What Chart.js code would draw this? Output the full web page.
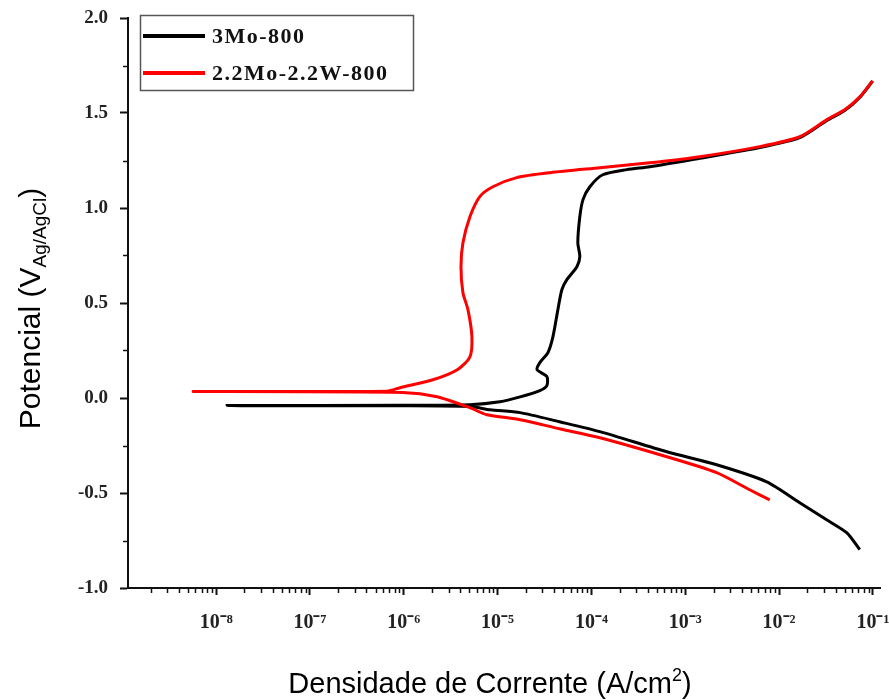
<!DOCTYPE html>
<html><head><meta charset="utf-8">
<script src="https://cdn.jsdelivr.net/npm/chart.js@4.4.0/dist/chart.umd.min.js"></script>
<style>html,body{margin:0;padding:0;background:#fff}#wrap{width:889px;height:700px;position:relative}</style>
</head><body><div id="wrap"><canvas id="c" width="889" height="700"></canvas></div>
<script>
// ---- data ----
const seriesLabels = ['3Mo-800', '2.2Mo-2.2W-800'];
const seriesColors = ['#000000', '#ff0000'];

const current3Mo = [7.24e-2, 5.25e-2, 3.21e-2, 1.66e-2, 7.38e-3, 2.16e-3, 6.35e-4, 1.23e-4, 4.57e-5, 1.74e-5,
  8.32e-6, 5.07e-6, 9.12e-7, 1.31e-8, 9.12e-7, 5.07e-6, 1.06e-5, 1.74e-5, 2.82e-5, 3.35e-5,
  3.35e-5, 2.63e-5, 2.82e-5, 3.44e-5, 3.89e-5, 4.39e-5, 4.84e-5, 5.47e-5, 7.00e-5, 7.52e-5,
  7.16e-5, 7.52e-5, 8.13e-5, 9.62e-5, 1.32e-4, 2.38e-4, 4.19e-4, 1.43e-3, 6.22e-3, 1.66e-2,
  3.21e-2, 5.0e-2, 7.24e-2, 9.93e-2];
const potential3Mo = [-0.798, -0.709, -0.641, -0.551, -0.441, -0.351, -0.283, -0.177, -0.125, -0.077,
  -0.062, -0.045, -0.041, -0.040, -0.038, -0.035, -0.020, 0.006, 0.039, 0.065,
  0.113, 0.149, 0.186, 0.239, 0.323, 0.465, 0.570, 0.623, 0.691, 0.744,
  0.817, 0.954, 1.044, 1.112, 1.175, 1.202, 1.217, 1.262, 1.318, 1.37,
  1.46, 1.513, 1.582, 1.668];

const currentMoW = [7.94e-3, 4.86e-3, 2.16e-3, 6.35e-4, 1.23e-4, 4.57e-5, 1.74e-5, 7.69e-6, 5.07e-6, 2.26e-6,
  9.77e-7, 5.69e-9, 6.62e-7, 9.12e-7, 2.04e-6, 3.72e-6, 5.07e-6, 5.32e-6, 4.83e-6, 4.27e-6,
  4.07e-6, 4.27e-6, 5.07e-6, 6.46e-6, 8.91e-6, 1.60e-5, 3.63e-5, 1.23e-4, 4.19e-4, 1.43e-3,
  6.22e-3, 1.66e-2, 3.21e-2, 5.0e-2, 7.24e-2, 9.93e-2];
const potentialMoW = [-0.536, -0.483, -0.393, -0.309, -0.209, -0.162, -0.114, -0.088, -0.051, 0.007,
  0.029, 0.034, 0.036, 0.054, 0.096, 0.149, 0.217, 0.323, 0.465, 0.554,
  0.691, 0.817, 0.954, 1.06, 1.112, 1.16, 1.186, 1.212, 1.238, 1.27,
  1.323, 1.375, 1.464, 1.517, 1.585, 1.67];

const xDecadeExponents = [-9, -8, -7, -6, -5, -4, -3, -2, -1];
const xMin = 1.15e-9, xMax = 1.19e-1;
const yMajorTicks = [-1.0, -0.5, 0.0, 0.5, 1.0, 1.5, 2.0];
const yMin = -1.0, yMax = 2.0, yStep = 0.25;

const xTitle = 'Densidade de Corrente (A/cm';
const xTitleSup = '2';
const yTitleMain = 'Potencial (V';
const yTitleSub = 'Ag/AgCl';

// ---- helpers ----
const SUP = {'-':'\u207B','0':'\u2070','1':'\u00B9','2':'\u00B2','3':'\u00B3','4':'\u2074','5':'\u2075','6':'\u2076','7':'\u2077','8':'\u2078','9':'\u2079'};
const toSup = s => String(s).split('').map(c => SUP[c] || c).join('');
const isDecade = v => { const e = Math.log10(v); return Math.abs(e - Math.round(e)) < 1e-6; };
const isYMajor = v => yMajorTicks.some(t => Math.abs(t - v) < 1e-9);

const xTickValues = [];
xDecadeExponents.forEach(e => { for (let m = 1; m <= 9; m++) { const v = m * Math.pow(10, e); if (v >= xMin && v <= xMax) xTickValues.push(v); } });

const toPoints = (xs, ys) => xs.map((x, i) => ({x: x, y: ys[i]}));

const SERIF = '"Liberation Serif", "Times New Roman", serif';
const SANS = '"Liberation Sans", Arial, sans-serif';

const decorPlugin = {
  id: 'decor',
  afterDraw(chart) {
    const c = chart.ctx;
    const xs = chart.scales.x, ys = chart.scales.y;
    const area = chart.chartArea;
    c.save();
    // minor ticks
    c.strokeStyle = '#111'; c.lineWidth = 1.5;
    xs.ticks.forEach(t => {
      if (isDecade(t.value)) return;
      const px = Math.round(xs.getPixelForValue(t.value)) + 0.5;
      c.beginPath(); c.moveTo(px, area.bottom); c.lineTo(px, area.bottom + 5); c.stroke();
    });
    ys.ticks.forEach(t => {
      if (isYMajor(t.value)) return;
      const py = Math.round(ys.getPixelForValue(t.value)) + 0.5;
      c.beginPath(); c.moveTo(area.left, py); c.lineTo(area.left - 5, py); c.stroke();
    });
    // x title with superscript
    c.fillStyle = '#000'; c.textBaseline = 'alphabetic'; c.textAlign = 'left';
    c.font = '29px ' + SANS;
    const w1 = c.measureText(xTitle).width;
    c.font = '18px ' + SANS;
    const w2 = c.measureText(xTitleSup).width;
    c.font = '29px ' + SANS;
    const w3 = c.measureText(')').width;
    let sx = 490 - (w1 + w2 + w3) / 2;
    const by = 693;
    c.fillText(xTitle, sx, by); sx += w1;
    c.font = '18px ' + SANS; c.fillText(xTitleSup, sx, by - 12); sx += w2;
    c.font = '29px ' + SANS; c.fillText(')', sx, by);
    // y title with subscript
    c.save();
    c.translate(40, 308.5); c.rotate(-Math.PI / 2);
    c.font = '30px ' + SANS; const m1 = c.measureText(yTitleMain).width; const m3 = c.measureText(')').width;
    c.font = '19px ' + SANS; const m2 = c.measureText(yTitleSub).width;
    let tx = -(m1 + m2 + m3) / 2;
    c.font = '30px ' + SANS; c.fillText(yTitleMain, tx, 0); tx += m1;
    c.font = '19px ' + SANS; c.fillText(yTitleSub, tx, 6); tx += m2;
    c.font = '30px ' + SANS; c.fillText(')', tx, 0);
    c.restore();
    // legend box
    c.strokeStyle = '#555'; c.lineWidth = 1.5;
    c.strokeRect(140.5, 15.5, 273, 75);
    const rows = [36, 73];
    chart.data.datasets.forEach((ds, i) => {
      const y = rows[i];
      c.strokeStyle = ds.borderColor; c.lineWidth = 4;
      c.beginPath(); c.moveTo(143, y); c.lineTo(205, y); c.stroke();
      c.fillStyle = '#111'; c.font = 'bold 22px ' + SERIF; c.textBaseline = 'middle';
      if ('letterSpacing' in c) c.letterSpacing = '1.5px';
      c.fillText(ds.label, 212, y + 1);
      if ('letterSpacing' in c) c.letterSpacing = '0px';
    });
    c.restore();
  }
};

new Chart(document.getElementById('c').getContext('2d'), {
  type: 'scatter',
  data: {
    datasets: [
      {label: seriesLabels[0], data: toPoints(current3Mo, potential3Mo), borderColor: seriesColors[0], backgroundColor: seriesColors[0],
       showLine: true, pointRadius: 0, borderWidth: 3, tension: 0.25, order: 1},
      {label: seriesLabels[1], data: toPoints(currentMoW, potentialMoW), borderColor: seriesColors[1], backgroundColor: seriesColors[1],
       showLine: true, pointRadius: 0, borderWidth: 3, tension: 0.25, order: 0}
    ]
  },
  options: {
    responsive: false, animation: false,
    layout: {padding: {top: 18, right: 9, left: 0, bottom: 0}},
    plugins: {legend: {display: false}, tooltip: {enabled: false}, title: {display: false}},
    scales: {
      x: {
        type: 'logarithmic', min: xMin, max: xMax,
        afterBuildTicks(scale) { scale.ticks = xTickValues.map(v => ({value: v})); },
        afterFit(scale) { scale.height = 112; scale.paddingLeft = 0; scale.paddingRight = 0; },
        ticks: {
          autoSkip: false, maxRotation: 0, minRotation: 0, padding: 16, color: '#222',
          font: {family: SERIF, size: 20, weight: 'bold'},
          callback(v) { if (!isDecade(v)) return ''; const e = Math.round(Math.log10(v)); return '10' + toSup(e); }
        },
        grid: {drawOnChartArea: false, drawTicks: true, tickLength: 7, tickWidth: 2,
               tickColor: ctx => (ctx.tick && isDecade(ctx.tick.value)) ? '#111' : 'rgba(0,0,0,0)'},
        border: {display: true, color: '#111', width: 2}
      },
      y: {
        type: 'linear', min: yMin, max: yMax,
        afterFit(scale) { scale.width = 128; scale.paddingTop = 0; scale.paddingBottom = 0; },
        ticks: {
          stepSize: yStep, autoSkip: false, padding: 12, color: '#222',
          font: {family: SERIF, size: 19, weight: 'bold'},
          callback(v) { return isYMajor(v) ? Number(v).toFixed(1) : ''; }
        },
        grid: {drawOnChartArea: false, drawTicks: true, tickLength: 8, tickWidth: 2,
               tickColor: ctx => (ctx.tick && isYMajor(ctx.tick.value)) ? '#111' : 'rgba(0,0,0,0)'},
        border: {display: true, color: '#111', width: 2}
      }
    }
  },
  plugins: [decorPlugin]
});
</script>
</body></html>
